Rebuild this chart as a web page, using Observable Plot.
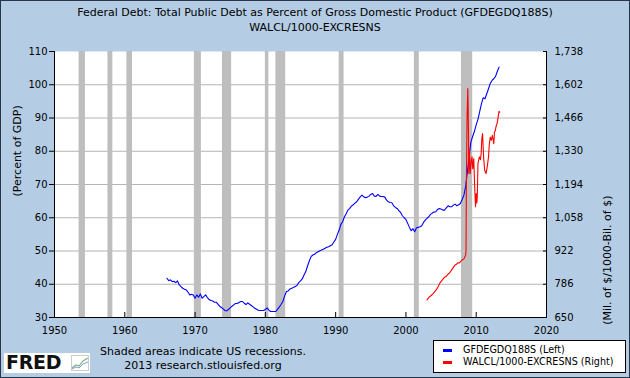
<!DOCTYPE html>
<html>
<head>
<meta charset="utf-8">
<script src="https://cdn.jsdelivr.net/npm/d3@7"></script>
<script src="https://cdn.jsdelivr.net/npm/@observablehq/plot@0.6"></script>
<style>
html, body { margin: 0; padding: 0; background: #B4CDE4; }
#chart { position: relative; width: 630px; height: 378px; background: #B4CDE4; overflow: hidden;
  font-family: "DejaVu Sans", sans-serif; color: #000; }
#chart::after { content: ""; position: absolute; left: 0; top: 0; right: 0; bottom: 0;
  border: 1px solid #27354a; pointer-events: none; }
#plot { position: absolute; left: 0; top: 0; }
.title { position: absolute; left: 0; width: 630px; text-align: center; font-size: 11px; line-height: 13px; white-space: nowrap; }
.note { position: absolute; width: 260px; text-align: center; font-size: 11px; line-height: 13px; white-space: nowrap; }
#logo { position: absolute; left: 4px; top: 353px; width: 86px; height: 20px; background: #fff; }
#logo span { position: absolute; left: 2px; top: -2px; font-family: "DejaVu Sans", sans-serif; font-weight: bold; font-size: 19px; letter-spacing: -0.3px; color: #111; }
#logo svg { position: absolute; left: 67px; top: 2px; }
#legend { position: absolute; left: 433px; top: 340px; width: 191px; height: 31px; background: #fff; border: 1px solid #000; font-size: 9.6px; }
.item { position: absolute; left: 0; white-space: nowrap; }
.sw { position: absolute; left: 9px; width: 9px; height: 2.5px; }
.lt { position: absolute; left: 29px; }
</style>
</head>
<body>
<div id="chart">
  <div id="plot"></div>
  <div class="title" style="top:6px">Federal Debt: Total Public Debt as Percent of Gross Domestic Product (GFDEGDQ188S)</div>
  <div class="title" style="top:21px">WALCL/1000-EXCRESNS</div>
  <div id="logo"><span>FRED</span>
    <svg width="18" height="16" viewBox="0 0 18 16"><rect x="0.5" y="0.5" width="17" height="15" fill="#fff" stroke="#ccc"/>
      <polyline points="1,13 5,10 8,11 12,6 17,3" fill="none" stroke="#7fb27f" stroke-width="1.2"/>
      <polyline points="1,14 5,12 8,13 12,9 17,7" fill="none" stroke="#7f9fd0" stroke-width="1"/></svg>
  </div>
  <div class="note" style="left:73px; top:345px">Shaded areas indicate US recessions.</div>
  <div class="note" style="left:73px; top:359px">2013 research.stlouisfed.org</div>
  <div id="legend"></div>
</div>
<script>
// ---------- data ----------
const seriesNames = ["GFDEGDQ188S (Left)", "WALCL/1000-EXCRESNS (Right)"];
const seriesColors = ["#0000FF", "#FF0000"];

// GFDEGDQ188S, quarterly from 1966 Q1 (percent of GDP)
const blueStart = 1966;
const blueValues = [
  41.8, 41.1, 41.3, 40.8,  40.9, 40.5, 41.0, 39.8,  39.3, 38.8, 38.5, 38.3,  37.6, 36.8, 37.0, 36.8,
  35.8, 36.8, 36.1, 37.1,  35.8, 36.3, 36.8, 36.0,  35.4, 35.1, 35.0, 34.6,  34.6, 34.0, 33.4, 33.0,
  32.6, 32.1, 32.0, 32.4,  32.9, 33.4, 33.8, 34.2,  34.2, 34.5, 34.8, 34.8,  34.3, 33.9, 34.4, 34.0,
  33.6, 33.2, 32.8, 32.5,  32.2, 32.1, 32.1, 32.1,  32.4, 32.9, 32.2, 31.8,  31.8, 31.8, 31.8, 32.5,
  33.2, 34.0, 34.9, 36.5,  37.8, 38.0, 38.6, 38.8,  39.0, 39.3, 39.6, 40.5,  41.0, 41.6, 42.8, 43.8,
  45.5, 47.0, 48.3, 48.8,  49.0, 49.5, 49.8, 50.1,  50.3, 50.5, 50.8, 51.1,  51.3, 51.6, 51.9, 52.7,
  53.5, 55.0, 56.3, 58.0,  58.8, 60.3, 61.2, 62.3,  62.8, 63.5, 63.9, 64.4,  64.8, 65.6, 66.3, 66.8,
  66.3, 66.0, 66.2, 66.5,  67.0, 67.3, 66.5, 66.4,  67.0, 66.5, 66.4, 66.4,  66.2, 65.3, 64.8, 64.6,
  64.5, 63.6, 63.1, 62.8,  62.1, 61.6, 60.6, 60.0,  59.5, 58.3, 57.1, 56.1,  56.7, 55.8, 57.0, 57.1,
  57.3, 57.6, 58.6, 59.3,  59.8, 60.3, 61.0, 61.4,  61.7, 61.8, 62.5, 62.8,  62.6, 62.3, 62.3, 63.0,
  63.6, 63.3, 63.3, 63.8,  64.1, 63.6, 63.9, 64.3,  65.5, 66.8, 69.5, 74.0,  78.5, 82.8, 84.5, 86.0,
  88.0, 89.6, 92.0, 94.3,  96.1, 95.8, 97.3, 98.8,  100.4, 101.3, 101.8, 102.5,  104.0, 105.3
];

// WALCL/1000 - EXCRESNS (billions of dollars)
const redDates = [
  2003.0, 2003.2, 2003.4, 2003.6, 2003.9, 2004.1, 2004.3, 2004.5, 2004.7, 2004.9,
  2005.1, 2005.3, 2005.5, 2005.8, 2006.0, 2006.2, 2006.5, 2006.7, 2007.0, 2007.2,
  2007.4, 2007.6, 2007.9, 2008.1, 2008.3, 2008.5, 2008.55, 2008.6, 2008.7, 2008.8,
  2008.85, 2008.9, 2008.95, 2009.05, 2009.15, 2009.3, 2009.4, 2009.5, 2009.65, 2009.8,
  2009.9, 2010.0, 2010.1, 2010.15, 2010.25, 2010.45, 2010.6, 2010.7, 2010.8, 2010.9,
  2011.05, 2011.2, 2011.4, 2011.5, 2011.6, 2011.75, 2011.85, 2012.0, 2012.15, 2012.3,
  2012.4, 2012.5, 2012.6, 2012.7, 2012.8, 2012.95, 2013.05, 2013.15, 2013.25, 2013.35
];
const redValues = [
  722, 729, 736, 740, 749, 756, 763, 772, 783, 794,
  801, 808, 815, 820, 828, 832, 845, 853, 865, 868,
  874, 873, 883, 887, 892, 906, 926, 1198, 1470, 1586,
  1518, 1402, 1239, 1334, 1239, 1293, 1307, 1259, 1300, 1171,
  1103, 1157, 1119, 1144, 1280, 1307, 1296, 1320, 1382, 1402,
  1307, 1252, 1239, 1255, 1273, 1307, 1354, 1388, 1375, 1395,
  1378, 1361, 1409, 1412, 1429, 1442, 1456, 1477, 1493, 1490
];

// US recessions (decimal years)
const recessionStart = [1953.5, 1957.6, 1960.3, 1969.9, 1973.9, 1980.0, 1981.5, 1990.5, 2001.2, 2007.9];
const recessionEnd   = [1954.4, 1958.3, 1961.1, 1970.9, 1975.2, 1980.5, 1982.9, 1991.2, 2001.9, 2009.5];

// axes
const xTicks = [1950, 1960, 1970, 1980, 1990, 2000, 2010, 2020];
const leftTicks = [30, 40, 50, 60, 70, 80, 90, 100, 110];
const rightTickLabels = ["650", "786", "922", "1,058", "1,194", "1,330", "1,466", "1,602", "1,738"];
const rightMin = 650, rightMax = 1738;
const leftLabel = "(Percent of GDP)";
const rightLabel = "(Mil. of $/1000-Bil. of $)";

// ---------- build ----------
const blue = blueValues.map((v, i) => ({date: blueStart + i / 4, value: v}));
const red = redDates.map((d, i) => ({date: d, value: redValues[i]}));
const recessions = recessionStart.map((s, i) => ({start: s, end: recessionEnd[i]}));
const leftMin = leftTicks[0], leftMax = leftTicks[leftTicks.length - 1];
const toLeft = v => leftMin + (v - rightMin) * (leftMax - leftMin) / (rightMax - rightMin);

const plot = Plot.plot({
  width: 630,
  height: 378,
  marginLeft: 54,
  marginRight: 84,
  marginTop: 51,
  marginBottom: 61,
  style: {background: "transparent", fontFamily: "DejaVu Sans, sans-serif", fontSize: "10px", color: "#000"},
  x: {domain: [1950, 2020]},
  y: {domain: [leftMin, leftMax]},
  marks: [
    Plot.frame({fill: "#fff", stroke: "none"}),
    Plot.ruleY(leftTicks.filter(t => t > leftMin && t < leftMax), {stroke: "#b4b4b4"}),
    Plot.rect(recessions, {x1: "start", x2: "end", fill: "#bebebe"}),
    Plot.line(blue, {x: "date", y: "value", stroke: seriesColors[0], strokeWidth: 1.1}),
    Plot.line(red, {x: "date", y: d => toLeft(d.value), stroke: seriesColors[1], strokeWidth: 1.1}),
    Plot.ruleX([1950, 2020], {stroke: "#000"}),
    Plot.ruleY([leftMin], {stroke: "#000"}),
    Plot.axisY(leftTicks, {anchor: "left", tickSize: 5, tickPadding: 2, label: null, tickFormat: d => String(d)}),
    Plot.axisY(leftTicks, {anchor: "right", tickSize: -4, tickPadding: 12, label: null,
      tickFormat: d => rightTickLabels[leftTicks.indexOf(d)]}),
    Plot.axisX(xTicks, {anchor: "bottom", tickSize: -5, tickPadding: 14, label: null, tickFormat: d => String(d)}),
    Plot.text([leftLabel], {frameAnchor: "left", dx: -37, dy: 12, rotate: -90, fontSize: 11, fill: "#000"}),
    Plot.text([rightLabel], {frameAnchor: "right", dx: 61, dy: 11, rotate: -90, fontSize: 11, fill: "#000"})
  ]
});
document.getElementById("plot").appendChild(plot);

// legend
const legend = document.getElementById("legend");
seriesNames.forEach((name, i) => {
  const item = document.createElement("div");
  item.className = "item";
  item.style.top = (i === 0 ? 3 : 15) + "px";
  item.innerHTML = `<div class="sw" style="top:5px;background:${seriesColors[i]}"></div><div class="lt">${name}</div>`;
  legend.appendChild(item);
});
</script>
</body>
</html>
